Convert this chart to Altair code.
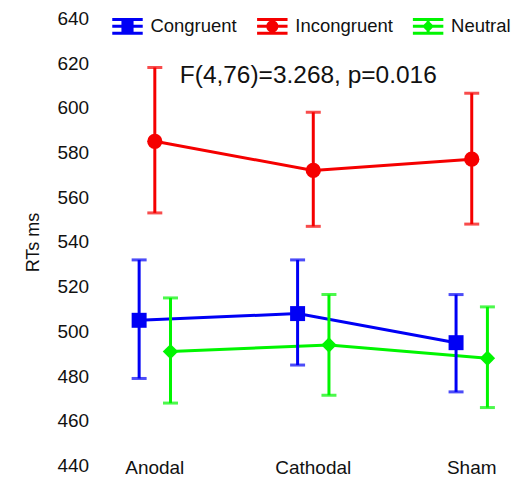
import altair as alt
import pandas as pd

conditions = ["Anodal", "Cathodal", "Sham"]
series_names = ["Congruent", "Incongruent", "Neutral"]
congruent_mean = [505, 508, 495]
congruent_upper = [532, 532, 516.5]
congruent_lower = [479, 485, 473]
incongruent_mean = [585, 572, 577]
incongruent_upper = [618, 598, 606.5]
incongruent_lower = [553, 547, 548]
neutral_mean = [491, 494, 488]
neutral_upper = [515, 516.5, 511]
neutral_lower = [468, 471.5, 466]
y_ticks = [440, 460, 480, 500, 520, 540, 560, 580, 600, 620, 640]
annotation = ["F(4,76)=3.268, p=0.016"]

colors = ["#0000f5", "#f50000", "#00f500"]
shapes = ["square", "circle", "diamond"]
LINES = "M-1,-0.45H1M-1,0.45H1M-1,0H1M0,-0.45V0.45"
legend_paths = [
    LINES + "M-0.3,-0.3H0.3V0.3H-0.3Z",
    LINES + "M-0.3,0A0.3,0.3 0 1,0 0.3,0A0.3,0.3 0 1,0 -0.3,0Z",
    LINES + "M0,-0.25L0.25,0L0,0.25L-0.25,0Z",
]

rows = []
for name, m, u, l in zip(
    series_names,
    [congruent_mean, incongruent_mean, neutral_mean],
    [congruent_upper, incongruent_upper, neutral_upper],
    [congruent_lower, incongruent_lower, neutral_lower],
):
    for c, mm, uu, ll in zip(conditions, m, u, l):
        rows.append({"condition": c, "series": name, "mean": mm, "upper": uu, "lower": ll})
df = pd.DataFrame(rows)

FONT = "Liberation Sans"
x_scale = alt.Scale(range=[0, 476], paddingInner=0, paddingOuter=0)

x_enc = alt.X(
    "condition:N",
    sort=conditions,
    scale=x_scale,
    axis=alt.Axis(
        title=None, labelAngle=0, ticks=False, tickSize=0, domain=False,
        labelBaseline="middle", labelPadding=2, labelFontSize=19,
        labelColor="#111111", labelFont=FONT,
    ),
)
xo_enc = alt.XOffset("series:N", sort=series_names,
                     scale=alt.Scale(type="point", domain=series_names, range=[55.8, 102.9]))
y_scale = alt.Scale(domain=[440, 640], nice=False, zero=False)
color_scale = alt.Scale(domain=series_names, range=colors)
color_enc = alt.Color("series:N", sort=series_names, scale=color_scale, legend=None)

base = alt.Chart(df)

line = base.mark_line(strokeWidth=3).encode(
    x=x_enc, xOffset=xo_enc,
    y=alt.Y("mean:Q", scale=y_scale, axis=alt.Axis(
        title="RTs ms", values=y_ticks, grid=False, domain=False, ticks=False, tickSize=0,
        labelPadding=0, offset=-13, labelFontSize=19, labelFont=FONT, labelColor="#111111",
        titleFontSize=18, titleFont=FONT, titleFontWeight="normal", titleColor="#111111",
        titlePadding=14,
    )),
    color=color_enc,
    detail="series:N",
)

rule = base.mark_rule(strokeWidth=3).encode(
    x=x_enc, xOffset=xo_enc,
    y=alt.Y("lower:Q", scale=y_scale), y2="upper:Q",
    color=color_enc,
)
cap_lo = base.mark_tick(size=15, thickness=3, orient="horizontal").encode(
    x=x_enc, xOffset=xo_enc, y=alt.Y("lower:Q", scale=y_scale), color=color_enc,
)
cap_hi = base.mark_tick(size=15, thickness=3, orient="horizontal").encode(
    x=x_enc, xOffset=xo_enc, y=alt.Y("upper:Q", scale=y_scale), color=color_enc,
)

points = base.mark_point(filled=True, opacity=1).encode(
    x=x_enc, xOffset=xo_enc,
    y=alt.Y("mean:Q", scale=y_scale),
    color=color_enc,
    shape=alt.Shape("series:N", sort=series_names, scale=alt.Scale(domain=series_names, range=shapes), legend=None),
    size=alt.Size("series:N", sort=series_names, scale=alt.Scale(domain=series_names, range=[225, 240, 130]), legend=None),
)

leg = dict(
    title=None, orient="none", direction="horizontal", legendX=35, legendY=-9,
    symbolOpacity=1, symbolSize=930, symbolStrokeWidth=3, labelFontSize=18.5,
    labelFont=FONT, labelColor="#111111", labelOffset=6, columnPadding=13,
)
legend_layer = base.mark_point(filled=True, opacity=0, size=930, strokeWidth=3).encode(
    x=x_enc, xOffset=xo_enc,
    y=alt.Y("mean:Q", scale=y_scale),
    color=alt.Color("series:N", sort=series_names, scale=color_scale, legend=alt.Legend(**leg)),
    stroke=alt.Stroke("series:N", sort=series_names, scale=color_scale, legend=alt.Legend(**leg)),
    shape=alt.Shape("series:N", sort=series_names, scale=alt.Scale(domain=series_names, range=legend_paths),
                    legend=alt.Legend(**leg)),
)

text = alt.Chart(pd.DataFrame({"label": annotation, "condition": ["Cathodal"], "value": [614]})).mark_text(
    fontSize=24.5, font=FONT, color="#111111", dx=-5, baseline="middle"
).encode(
    x=alt.X("condition:N", sort=conditions, scale=x_scale),
    y=alt.Y("value:Q", scale=y_scale),
    text="label:N",
)

chart = alt.layer(line, rule, cap_lo, cap_hi, points, legend_layer, text).resolve_scale(
    shape="independent", size="independent"
).resolve_legend(
    color="independent", shape="independent", size="independent", stroke="independent"
).properties(
    width=440, height=448,
    autosize=alt.AutoSizeParams(type="none"),
    padding={"left": 67.65, "top": 10, "right": 0, "bottom": 12},
).configure_view(stroke=None)

chart.save("out.html", embed_options={"renderer": "svg", "actions": False})
